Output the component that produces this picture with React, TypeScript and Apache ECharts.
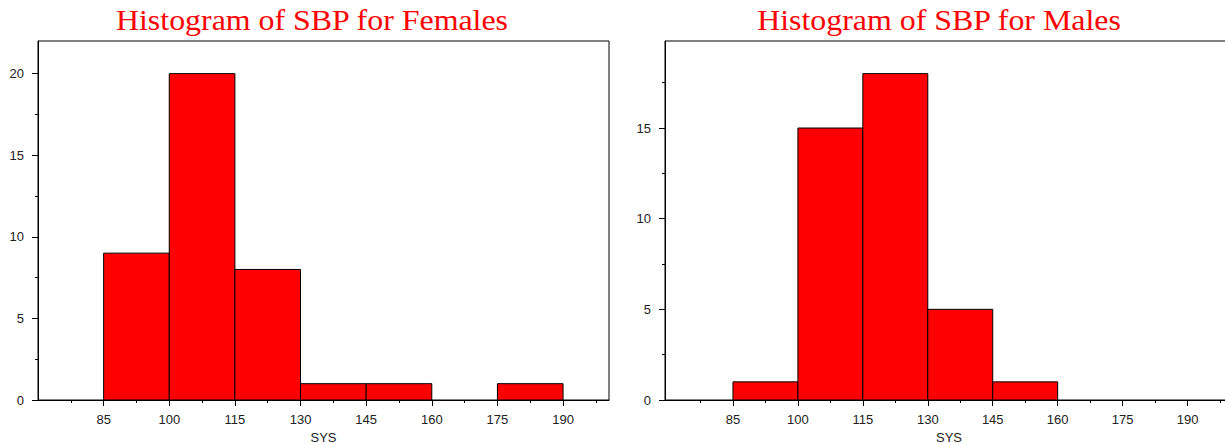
import React, { useEffect, useRef } from "react";
import * as echarts from "echarts";

const binStarts = [85, 100, 115, 130, 145, 160, 175];
const binWidth = 15;
const femaleCounts = [9, 20, 8, 1, 1, 0, 1];
const maleCounts = [1, 15, 18, 5, 1, 0, 0];
const xMajorTicks = [85, 100, 115, 130, 145, 160, 175, 190];
const xMinorTicks = [77.5, 92.5, 107.5, 122.5, 137.5, 152.5, 167.5, 182.5, 197.5];
const femaleYTicks = [0, 5, 10, 15, 20];
const maleYTicks = [0, 5, 10, 15];
const yMinorTicks = [2.5, 7.5, 12.5, 17.5];
const titles = ["Histogram of SBP for Females", "Histogram of SBP for Males"];
const xName = "SYS";

const X_MINS = [70, 69.3];
const X_MAX = 200.5;
const FEMALE_Y_MAX = 22;
const MALE_Y_MAX = 19.8;

const labelFont = { fontFamily: "Liberation Sans, Arial, sans-serif", fontSize: 13, color: "#222" };

function buildData(counts: number[]) {
  return binStarts.map((s, i) => [s, s + binWidth, counts[i]]);
}

export default function App() {
  const ref = useRef<HTMLDivElement>(null);
  useEffect(() => {
    if (!ref.current) return;
    const chart = echarts.init(ref.current, null, { renderer: "svg" });
    const grids = [
      { left: 38, top: 41, width: 571, height: 359 },
      { left: 665, top: 41, width: 568, height: 359 },
    ].map((g) => ({
      ...g,
      show: true,
      borderColor: "#000",
      borderWidth: 1,
      backgroundColor: "transparent",
      containLabel: false,
      outerBoundsMode: "none",
    }));

    const xAxes: any[] = [];
    const yAxes: any[] = [];
    [0, 1].forEach((gi) => {
      xAxes.push({
        type: "value",
        gridIndex: gi,
        position: "bottom",
        min: X_MINS[gi],
        max: X_MAX,
        name: xName,
        nameLocation: "middle",
        nameGap: 26,
        nameTextStyle: { ...labelFont },
        axisLine: { show: true, onZero: false, lineStyle: { color: "#000", width: 1 } },
        axisTick: { show: true, length: 6, customValues: xMajorTicks, lineStyle: { color: "#000" } },
        axisLabel: { show: true, customValues: xMajorTicks, margin: 13, ...labelFont },
        splitLine: { show: false },
      });
      xAxes.push({
        type: "value",
        gridIndex: gi,
        position: "bottom",
        min: X_MINS[gi],
        max: X_MAX,
        axisLine: { show: false, onZero: false },
        axisTick: { show: true, length: 3, customValues: xMinorTicks, lineStyle: { color: "#000" } },
        axisLabel: { show: false },
        splitLine: { show: false },
      });
      const ymax = gi === 0 ? FEMALE_Y_MAX : MALE_Y_MAX;
      const yt = gi === 0 ? femaleYTicks : maleYTicks;
      yAxes.push({
        type: "value",
        gridIndex: gi,
        position: "left",
        min: 0,
        max: ymax,
        axisLine: { show: true, onZero: false, lineStyle: { color: "#000", width: 1 } },
        axisTick: { show: true, length: 6, customValues: yt, lineStyle: { color: "#000" } },
        axisLabel: { show: true, customValues: yt, margin: 14, ...labelFont },
        splitLine: { show: false },
      });
      yAxes.push({
        type: "value",
        gridIndex: gi,
        position: "left",
        min: 0,
        max: ymax,
        axisLine: { show: false, onZero: false },
        axisTick: { show: true, length: 3, customValues: yMinorTicks, lineStyle: { color: "#000" } },
        axisLabel: { show: false },
        splitLine: { show: false },
      });
    });

    const renderItem = (params: any, api: any) => {
      const lo = api.value(0);
      const hi = api.value(1);
      const c = api.value(2);
      if (!c) return null;
      const p0 = api.coord([lo, c]);
      const p1 = api.coord([hi, 0]);
      return {
        type: "rect",
        shape: { x: p0[0], y: p0[1], width: p1[0] - p0[0], height: p1[1] - p0[1] },
        style: { fill: "#ff0000", stroke: "#000", lineWidth: 1 },
      };
    };

    const titleFont = '29px "Liberation Serif", "Times New Roman", serif';

    chart.setOption({
      animation: false,
      backgroundColor: "#fff",
      grid: grids,
      xAxis: xAxes,
      yAxis: yAxes,
      graphic: [
        {
          type: "text",
          x: 312,
          y: 6,
          scaleX: 1.1,
          style: { text: titles[0], fill: "#ff0000", font: titleFont, textAlign: "center", textVerticalAlign: "top" },
        },
        {
          type: "text",
          x: 939,
          y: 6,
          scaleX: 1.1,
          style: { text: titles[1], fill: "#ff0000", font: titleFont, textAlign: "center", textVerticalAlign: "top" },
        },
      ],
      series: [
        {
          type: "custom",
          name: "Females",
          xAxisIndex: 0,
          yAxisIndex: 0,
          renderItem,
          encode: { x: [0, 1], y: 2 },
          data: buildData(femaleCounts),
        },
        {
          type: "custom",
          name: "Males",
          xAxisIndex: 2,
          yAxisIndex: 2,
          renderItem,
          encode: { x: [0, 1], y: 2 },
          data: buildData(maleCounts),
        },
      ],
    });
    return () => chart.dispose();
  }, []);
  return <div ref={ref} style={{ position: "fixed", left: 0, top: 0, width: 1225, height: 444 }} />;
}
